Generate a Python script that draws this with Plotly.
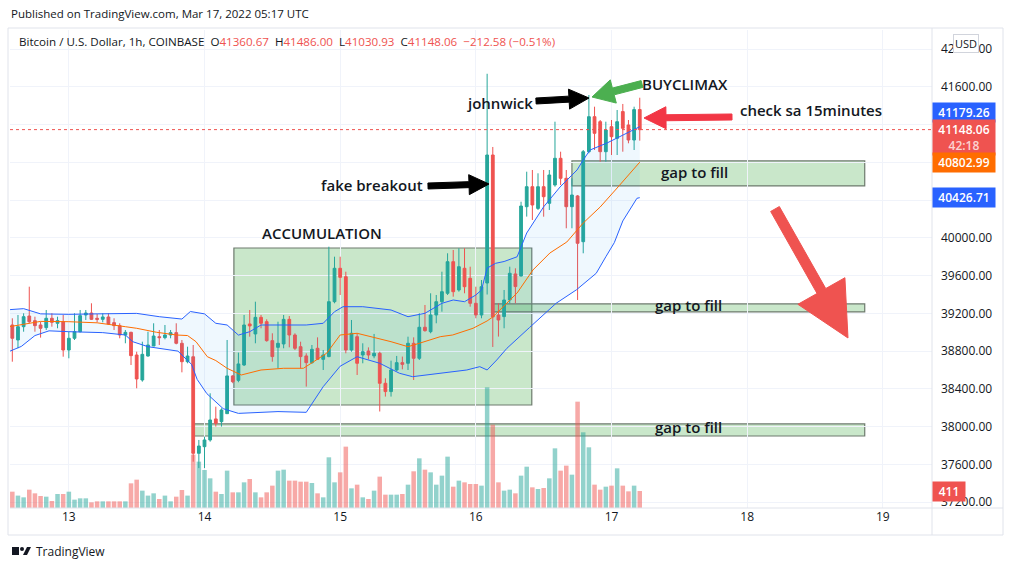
import plotly.graph_objects as go
import pandas as pd
import math

# ---------------- data ----------------
start = pd.Timestamp("2022-03-12 14:00")
times = pd.date_range(start, periods=112, freq="h")

opens = [39077, 38918, 39059, 39172, 39123, 39077, 39049, 39148, 39095, 39112,
         38812, 38936, 39006, 39183, 39204, 39148, 39137, 39162, 39102, 39070,
         38971, 38999, 38759, 38494, 38748, 38854, 38953, 38943, 38971, 38996,
         38883, 38688, 38740, 37717, 37787, 37858, 38081, 38052, 38137, 38537,
         38490, 38653, 39088, 38982, 39158, 39112, 38911, 38840, 38876, 39137,
         38971, 38847, 38749, 38678, 38830, 38713, 38742, 39324, 39678, 39589,
         38812, 38953, 38759, 38801, 38749, 38777, 38459, 38371, 38600, 38678,
         38671, 38883, 38724, 39053, 39006, 39183, 39324, 39413, 39748, 39448,
         39678, 39572, 39307, 39183, 39522, 40879, 39183, 39166, 39342, 39618,
         39597, 40331, 40543, 40313, 40543, 40367, 40561, 40844, 40632, 40331,
         40445, 39960, 40914, 41285, 41232, 40914, 41179, 41056, 41339, 41197,
         41038, 41360.67]
highs = [39148, 39183, 39201, 39483, 39165, 39112, 39236, 39201, 39165, 39183,
         39006, 39201, 39236, 39236, 39307, 39194, 39201, 39201, 39148, 39095,
         39024, 39006, 38794, 38900, 39006, 39095, 39024, 39077, 39024, 39095,
         38918, 38847, 38865, 37858, 37893, 38353, 38211, 38194, 38918, 38545,
         38784, 39183, 39236, 39324, 39183, 39137, 38989, 39112, 39183, 39172,
         38989, 38900, 38777, 38865, 38946, 38812, 39907, 39801, 39801, 39642,
         39130, 38989, 38883, 38840, 38982, 38794, 38512, 38699, 38749, 38742,
         38953, 38946, 39201, 39289, 39413, 39395, 39642, 39837, 39872, 39890,
         39890, 39695, 39483, 39554, 41740, 40964, 39307, 39448, 39695, 39678,
         40384, 40702, 40720, 40685, 40720, 40720, 41232, 40914, 40720, 40632,
         40455, 40932, 41515, 41391, 41250, 41232, 41250, 41356, 41420, 41250,
         41391, 41486.00]
lows = [38688, 38830, 39006, 39095, 39006, 38943, 39024, 39059, 39042, 38741,
        38724, 38918, 38999, 39130, 39130, 39105, 39105, 39077, 39024, 38936,
        38883, 38653, 38406, 38476, 38741, 38854, 38865, 38925, 38936, 38872,
        38575, 38671, 37628, 37560, 37560, 37840, 38000, 38000, 38137, 38460,
        38470, 38642, 38953, 38883, 39042, 38900, 38688, 38618, 38830, 38840,
        38812, 38618, 38424, 38664, 38706, 38600, 38735, 39307, 39395, 38777,
        38794, 38547, 38671, 38713, 38724, 38160, 38318, 38318, 38590, 38607,
        38600, 38494, 38706, 39006, 38989, 39095, 39218, 39395, 39377, 39430,
        39413, 39271, 39148, 39148, 39400, 38844, 38954, 39042, 39307, 39307,
        39590, 40226, 40190, 40296, 40225, 40296, 40543, 40561, 40102, 40102,
        39342, 39837, 40897, 40932, 40808, 40808, 40879, 40879, 40914, 41003,
        40932, 41030.93]
closes = [38936, 39059, 39165, 39112, 39070, 39042, 39148, 39105, 39123, 38812,
          38936, 39006, 39176, 39204, 39137, 39137, 39162, 39088, 39070, 38971,
          38999, 38752, 38505, 38766, 38865, 38960, 38943, 38971, 38996, 38883,
          38688, 38748, 37717, 37794, 37858, 38070, 38035, 38176, 38537, 38476,
          38664, 39077, 39067, 39158, 39095, 38911, 38742, 38883, 39137, 38971,
          38830, 38742, 38678, 38819, 38713, 38759, 39324, 39678, 39582, 38812,
          38989, 38671, 38794, 38759, 38777, 38459, 38371, 38600, 38678, 38660,
          38883, 38724, 39053, 39017, 39183, 39324, 39430, 39748, 39430, 39695,
          39483, 39307, 39183, 39483, 40879, 39162, 39130, 39342, 39625, 39484,
          40338, 40543, 40349, 40543, 40437, 40667, 40844, 40632, 40331, 40455,
          39943, 40914, 41285, 41109, 40914, 41144, 41073, 41232, 41162, 41038,
          41360, 41148.06]
volumes = [395, 300, 258, 444, 355, 290, 274, 170, 339, 339,
           395, 202, 234, 234, 137, 161, 161, 161, 161, 161,
           161, 597, 686, 420, 300, 355, 218, 300, 161, 274,
           436, 300, 1291, 1122, 920, 718, 395, 339, 904, 379,
           379, 621, 702, 379, 258, 379, 541, 904, 928, 662,
           662, 637, 637, 605, 355, 258, 1227, 621, 863, 1485,
           476, 565, 258, 218, 420, 759, 323, 323, 323, 339,
           565, 888, 1202, 928, 863, 565, 783, 1243, 516, 662,
           621, 581, 581, 541, 2921, 2017, 621, 420, 444, 355,
           783, 1000, 500, 460, 484, 718, 1444, 904, 1025, 807,
           2574, 1832, 1469, 565, 444, 516, 541, 960, 541, 403,
           541, 411]

# Bollinger bands (hours since first candle, price)
bb_upper_h = [-0.4, 2, 5, 10, 15, 19, 22, 26, 30, 31.5, 34, 36, 38, 40, 42, 44, 48, 52, 55,
              57, 58.5, 62, 67, 70, 73, 76, 78, 80, 82, 83, 84, 85.5, 87, 89.3, 91, 94,
              96.9, 99.9, 101, 102.2, 105.2, 108, 111]
bb_upper = [39240, 39250, 39195, 39190, 39195, 39200, 39200, 39165, 39140, 39220, 39195,
            39095, 39077, 38970, 39006, 39077, 39077, 39077, 39095, 39218, 39271, 39271,
            39236, 39165, 39201, 39307, 39342, 39324, 39395, 39448, 39680, 39731, 39750,
            39800, 40052, 40330, 40540, 40720, 40826, 40932, 41006, 41091, 41179.26]
bb_mid_h = [-0.4, 3, 5, 10, 15, 20, 22, 25.5, 29, 31, 32.5, 34.5, 36, 38, 40.5, 44, 48, 51.5,
            55.6, 58, 61, 67, 70, 72, 75.7, 77.9, 81.5, 84, 85, 89.3, 92.1, 95.1, 98.1, 101,
            104, 107, 111]
bb_mid = [39060, 39095, 39115, 39112, 39100, 39059, 39042, 39000, 38971, 38965, 38900,
          38741, 38700, 38618, 38547, 38600, 38618, 38618, 38777, 38971, 38989, 38900,
          38847, 38883, 38953, 38971, 39042, 39120, 39162, 39416, 39660, 39840, 39957,
          40158, 40328, 40529, 40802.99]
bb_lower_h = [-0.4, 1.6, 4, 6.5, 10, 16, 20, 21.3, 24, 27, 29.3, 31.7, 32.7, 34.4, 37.3, 40,
              47, 52, 55, 58, 61, 65, 68.5, 70.8, 75.7, 80.4, 82.7, 84, 85.7, 87.5, 91.5,
              96.2, 99.8, 103.3, 105, 106.5, 108, 110.5, 111]
bb_lower = [38800, 38850, 38965, 39015, 39006, 38996, 38971, 38900, 38847, 38823, 38800,
            38660, 38500, 38350, 38190, 38140, 38159, 38151, 38423, 38640, 38741, 38671,
            38565, 38529, 38565, 38600, 38635, 38600, 38706, 38830, 39050, 39307, 39450,
            39625, 39800, 39950, 40180, 40420, 40426.71]

price_ticks = list(range(37200, 42001, 400))
hidden_ticks = {41200, 40800, 40400}   # covered by the price badges in the picture
price_ticktext = ["" if v in hidden_ticks else f"{v:.2f}" for v in price_ticks]
day_ticks = [13, 14, 15, 16, 17, 18, 19]

# ---------------- styling helpers ----------------
UP, DN = "#26a69a", "#ef5350"
W, H = 1012, 570
PX0, PX1, PY0, PY1 = 10, 932, 30, 508   # plot area in pixels


def px(x):
    return (x - PX0) / (PX1 - PX0)


def py(y):
    return (PY1 - y) / (PY1 - PY0)


def hrs(h):
    return start + pd.Timedelta(hours=h)


vol_colors = ["rgba(38,166,154,0.5)" if c >= o else "rgba(239,83,80,0.5)"
              for o, c in zip(opens, closes)]

fig = go.Figure()

# volume (bottom layer, own hidden axis)
fig.add_trace(go.Bar(x=times, y=volumes, marker=dict(color=vol_colors, line_width=0),
                     yaxis="y", hoverinfo="skip", showlegend=False))

# Bollinger band fill + lines (price axis y2)
fig.add_trace(go.Scatter(x=[hrs(h) for h in bb_upper_h], y=bb_upper, mode="lines",
                         line=dict(color="#2962ff", width=1), yaxis="y2", showlegend=False))
fig.add_trace(go.Scatter(x=[hrs(h) for h in bb_lower_h], y=bb_lower, mode="lines",
                         line=dict(color="#2962ff", width=1), yaxis="y2", fill="tonexty",
                         fillcolor="rgba(33,150,243,0.07)", showlegend=False))
fig.add_trace(go.Scatter(x=[hrs(h) for h in bb_mid_h], y=bb_mid, mode="lines",
                         line=dict(color="#ff6d00", width=1), yaxis="y2", showlegend=False))

fig.add_trace(go.Candlestick(x=times, open=opens, high=highs, low=lows, close=closes,
                             yaxis="y2", whiskerwidth=0,
                             increasing=dict(line=dict(color=UP, width=1), fillcolor=UP),
                             decreasing=dict(line=dict(color=DN, width=1), fillcolor=DN),
                             showlegend=False))

shapes = []
annots = []

# rectangles (zones)
GREEN_FILL = "rgba(76,175,80,0.30)"
BORDER = "#6e7b6e"


def zone(x0h, x1h, y0, y1):
    shapes.append(dict(type="rect", xref="x", yref="y2", x0=hrs(x0h), x1=hrs(x1h),
                       y0=y0, y1=y1, fillcolor=GREEN_FILL, line=dict(color=BORDER, width=1.2),
                       layer="below"))


zone(39.2, 91.9, 38229, 39893)    # accumulation
zone(99.0, 150.8, 40551, 40816)   # gap top
zone(84.8, 150.8, 39215, 39300)   # gap mid
zone(32.1, 150.8, 37900, 38028)   # gap low

# dotted last-price line
shapes.append(dict(type="line", xref="paper", yref="y2", x0=0, x1=1, y0=closes[-1], y1=closes[-1],
                   line=dict(color=DN, width=1, dash="dot"), layer="above"))


def arrow(tail, tip, shaft, head_w, head_len, color):
    (x0, y0), (x1, y1) = tail, tip
    dx, dy = x1 - x0, y1 - y0
    L = math.hypot(dx, dy)
    ux, uy = dx / L, dy / L
    nx, ny = -uy, ux
    bx, by = x1 - ux * head_len, y1 - uy * head_len
    pts = [(x0 + nx * shaft / 2, y0 + ny * shaft / 2),
           (bx + nx * shaft / 2, by + ny * shaft / 2),
           (bx + nx * head_w / 2, by + ny * head_w / 2),
           (x1, y1),
           (bx - nx * head_w / 2, by - ny * head_w / 2),
           (bx - nx * shaft / 2, by - ny * shaft / 2),
           (x0 - nx * shaft / 2, y0 - ny * shaft / 2)]
    path = "M " + " L ".join(f"{px(a):.5f},{py(b):.5f}" for a, b in pts) + " Z"
    shapes.append(dict(type="path", xref="paper", yref="paper", path=path,
                       fillcolor=color, line=dict(color=color, width=1), layer="above"))


arrow((428, 186), (489, 184), 6, 20, 20, "#000000")       # fake breakout
arrow((536, 101), (589, 98), 6, 20, 20, "#000000")        # johnwick
arrow((642, 84), (592, 97), 7, 24, 22, "#4caf50")         # buyclimax
arrow((732, 117), (644, 118), 6, 22, 22, "#f23645")       # check 15 min
arrow((775, 209), (848, 338), 10, 54, 54, "#ef5350")      # big down arrow

FONT = "Open Sans"
TXT = dict(family=FONT, size=15, color="#131722", weight=600)


def label(text, x, y):
    annots.append(dict(text=text, xref="paper", yref="paper", x=px(x), y=py(y),
                       showarrow=False, font=TXT, xanchor="center", yanchor="middle"))


label("ACCUMULATION", 322, 233)
label("fake breakout", 372, 185)
label("johnwick", 500, 103)
label("BUYCLIMAX", 685, 84)
label("check sa 15minutes", 811, 110)
label("gap to fill", 694, 172)
label("gap to fill", 688, 305)
label("gap to fill", 688, 427)

# header & legend
annots.append(dict(text="Published on TradingView.com, Mar 17, 2022 05:17 UTC", xref="paper",
                   yref="paper", x=px(9), y=py(14), xanchor="left", yanchor="middle",
                   showarrow=False, font=dict(family=FONT, size=11.5, color="#131722")))
R = "#ef5350"
leg = ("Bitcoin / U.S. Dollar, 1h, COINBASE&nbsp;&nbsp;"
       f"O<span style='color:{R}'>41360.67</span>&nbsp;&nbsp;H<span style='color:{R}'>41486.00</span>"
       f"&nbsp;&nbsp;L<span style='color:{R}'>41030.93</span>&nbsp;&nbsp;C<span style='color:{R}'>41148.06</span>"
       f"&nbsp;&nbsp;<span style='color:{R}'>−212.58 (−0.51%)</span>")
annots.append(dict(text=leg, xref="paper", yref="paper", x=px(17), y=py(42), xanchor="left",
                   yanchor="middle", showarrow=False, font=dict(family=FONT, size=11.6, color="#131722")))


# right price-axis badges
def badge(text, yval, color, yshift=0):
    annots.append(dict(text=text, xref="paper", yref="y2", x=1.0, y=yval, xanchor="left",
                       yanchor="middle", yshift=yshift, showarrow=False, bgcolor=color,
                       width=60, align="center", borderpad=1,
                       font=dict(family=FONT, size=12, color="white", weight=600)))


badge("41179.26", bb_upper[-1], "#2962ff", yshift=14)
badge("41148.06<br><span style='color:rgba(255,255,255,0.75)'>42:18</span>", closes[-1] - 80, "#ef5350")
badge("40802.99", bb_mid[-1], "#ff6d00")
badge("40426.71", bb_lower[-1], "#2962ff")
annots.append(dict(text="411", xref="paper", yref="y", x=1.0, y=volumes[-1], xanchor="left",
                   yanchor="middle", showarrow=False, bgcolor="#ef5350", width=30, borderpad=1,
                   font=dict(family=FONT, size=12, color="white", weight=600)))
annots.append(dict(text="USD", xref="paper", yref="paper", x=px(966), y=py(43), xanchor="center",
                   yanchor="middle", showarrow=False, bgcolor="white", bordercolor="#d1d4dc",
                   borderwidth=1, borderpad=1, font=dict(family=FONT, size=11, color="#131722")))

# footer logo
annots.append(dict(text="TradingView", xref="paper", yref="paper", x=px(34), y=py(551),
                   xanchor="left", yanchor="middle", showarrow=False,
                   font=dict(family=FONT, size=12, color="#131722")))
shapes.append(dict(type="rect", xref="paper", yref="paper", x0=px(12), x1=px(19), y0=py(555),
                   y1=py(547), fillcolor="#131722", line_width=0))
shapes.append(dict(type="circle", xref="paper", yref="paper", x0=px(20), x1=px(24), y0=py(551),
                   y1=py(547), fillcolor="#131722", line_width=0))
shapes.append(dict(type="path", xref="paper", yref="paper",
                   path=f"M {px(23)},{py(555)} L {px(27)},{py(547)} L {px(31)},{py(547)} L {px(27)},{py(555)} Z",
                   fillcolor="#131722", line_width=0))

# frame lines
FR = "#e0e3eb"
for (a, b, c, d) in [(8, 28, 1003, 28), (8, 535, 1003, 535), (10, 508, 1003, 508),
                     (932, 28, 932, 535), (8, 28, 8, 535), (1003, 28, 1003, 535)]:
    shapes.append(dict(type="line", xref="paper", yref="paper", x0=px(a), x1=px(c), y0=py(b),
                       y1=py(d), line=dict(color=FR, width=1)))

fig.update_layout(
    width=W, height=H, margin=dict(l=PX0, r=W - PX1, t=PY0, b=H - PY1),
    paper_bgcolor="white", plot_bgcolor="white",
    showlegend=False, bargap=0.2,
    xaxis=dict(type="date", range=[hrs(-0.41), hrs(162.7)], rangeslider=dict(visible=False),
               tickvals=[pd.Timestamp(f"2022-03-{d:02d}") for d in day_ticks],
               ticktext=[str(d) for d in day_ticks], showgrid=True, gridcolor="#f0f3fa",
               tickfont=dict(family=FONT, size=12, color="#131722"), ticks="", zeroline=False,
               showline=False),
    yaxis=dict(range=[0, 11570], visible=False, showgrid=False, fixedrange=True),
    yaxis2=dict(overlaying="y", side="right", range=[37137, 42204], tickvals=price_ticks,
                ticktext=price_ticktext, showgrid=True, gridcolor="#f0f3fa", zeroline=False,
                tickfont=dict(family=FONT, size=12, color="#131722"), ticks="",
                ticklabelstandoff=8),
    shapes=shapes, annotations=annots,
)

fig.write_html("out.html")
